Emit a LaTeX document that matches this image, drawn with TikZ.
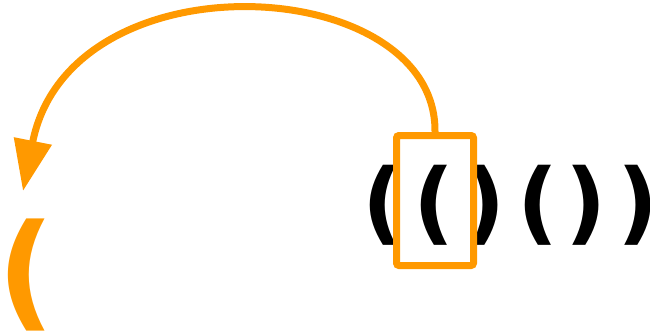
\documentclass[tikz,border=0pt]{standalone}
\usepackage{fontspec}
\setmainfont{DejaVu Sans}
\usetikzlibrary{arrows.meta}
\definecolor{hl}{RGB}{255,153,0}
\tikzset{
  paren/.style={inner sep=0pt, font=\bfseries\fontsize{90}{90}\selectfont, text=black},
  bigparen/.style={inner sep=0pt, font=\bfseries\fontsize{126}{126}\selectfont, text=hl},
  hlbox/.style={draw=hl, line width=7pt, rounded corners=2.5pt, minimum width=77pt, minimum height=130pt, inner sep=0pt},
  jump/.style={draw=hl, line width=7pt, -{Triangle[length=51pt,width=37pt]}}
}
\begin{document}
\begin{tikzpicture}[x=1pt,y=-1pt]
\useasboundingbox (0,0) rectangle (650,332);
\node[paren] (p1) at (383,205) {(};
\node[paren] (p2) at (434,205) {(};
\node[paren] (p3) at (485.5,205) {)};
\node[paren] (p4) at (538.5,205) {(};
\node[paren] (p5) at (586.5,205) {)};
\node[paren] (p6) at (638.5,205) {)};
\node[hlbox] (box) at (435,200.5) {};
\node[bigparen] (big) at (26.5,275) {(};
\coordinate (tip) at (23,191);
\draw[jump] (box.north) .. controls (437,-27) and (70,-47) .. (tip);
\end{tikzpicture}
\end{document}
